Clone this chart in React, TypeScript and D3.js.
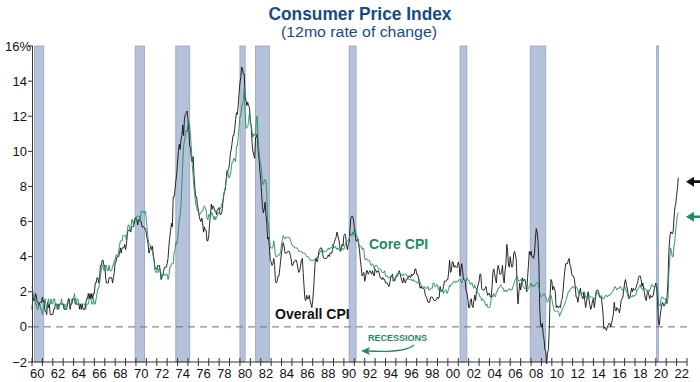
import React from "react";
import * as d3 from "d3";

// Monthly year-over-year % change, Jan 1960 onwards
const overallCPI: number[] = [
  // 1960
  1.0, 1.7, 1.5, 1.5, 1.9, 1.8, 1.4, 1.4, 1.2, 1.4, 1.4, 1.4,
  // 1961
  1.7, 1.4, 1.5, 0.9, 0.9, 0.7, 1.4, 1.1, 1.3, 0.7, 0.7, 0.7,
  // 1962
  0.7, 1.0, 1.0, 1.3, 1.3, 1.3, 1.0, 1.3, 1.3, 1.3, 1.3, 1.3,
  // 1963
  1.3, 1.0, 1.0, 1.0, 1.0, 1.3, 1.6, 1.6, 1.0, 1.3, 1.3, 1.6,
  // 1964
  1.6, 1.6, 1.3, 1.3, 1.3, 1.3, 1.3, 1.0, 1.3, 1.0, 1.3, 1.0,
  // 1965
  1.0, 1.0, 1.3, 1.6, 1.6, 1.9, 1.6, 1.9, 1.6, 1.9, 1.6, 1.9,
  // 1966
  1.9, 2.5, 2.5, 2.8, 2.8, 2.5, 2.8, 3.5, 3.5, 3.8, 3.8, 3.5,
  // 1967
  3.5, 2.8, 2.5, 2.5, 2.5, 2.8, 2.8, 2.8, 2.8, 2.5, 2.8, 3.1,
  // 1968
  3.7, 3.7, 4.0, 4.0, 4.0, 4.2, 4.5, 4.2, 4.5, 4.5, 4.5, 4.7,
  // 1969
  4.4, 4.7, 5.3, 5.5, 5.5, 5.5, 5.4, 5.7, 5.7, 5.7, 5.9, 6.2,
  // 1970
  6.2, 6.1, 5.8, 6.1, 6.1, 6.0, 6.0, 5.7, 5.7, 5.7, 5.6, 5.6,
  // 1971
  5.3, 5.0, 4.7, 4.2, 4.4, 4.6, 4.4, 4.6, 4.1, 3.8, 3.3, 3.3,
  // 1972
  3.3, 3.5, 3.5, 3.5, 3.2, 2.7, 2.9, 2.9, 3.2, 3.4, 3.4, 3.4,
  // 1973
  3.6, 3.9, 4.6, 5.1, 5.5, 5.9, 5.7, 7.4, 7.4, 7.8, 8.3, 8.7,
  // 1974
  9.4, 10.0, 10.4, 10.1, 10.7, 10.9, 11.5, 10.9, 11.9, 12.1, 12.2, 12.3,
  // 1975
  11.8, 11.2, 10.3, 10.2, 9.5, 9.4, 9.7, 8.6, 7.9, 7.4, 7.4, 6.9,
  // 1976
  6.7, 6.3, 6.1, 6.0, 6.2, 5.9, 5.4, 5.7, 5.5, 5.5, 4.9, 4.9,
  // 1977
  5.2, 5.9, 6.4, 7.0, 6.7, 6.9, 6.8, 6.6, 6.6, 6.4, 6.7, 6.7,
  // 1978
  6.8, 6.4, 6.4, 6.5, 6.9, 7.4, 7.7, 7.8, 8.3, 8.9, 8.9, 9.0,
  // 1979
  9.3, 9.9, 10.1, 10.5, 10.9, 10.9, 11.3, 11.8, 12.2, 12.1, 12.6, 13.3,
  // 1980
  13.9, 14.2, 14.8, 14.7, 14.4, 14.4, 13.1, 12.9, 12.6, 12.8, 12.6, 12.5,
  // 1981
  11.8, 11.4, 10.5, 10.0, 9.8, 9.6, 10.8, 10.8, 11.0, 10.1, 9.6, 8.9,
  // 1982
  8.4, 7.6, 6.8, 6.5, 6.7, 7.1, 6.4, 5.9, 5.0, 5.1, 4.6, 3.8,
  // 1983
  3.7, 3.5, 3.6, 3.9, 3.5, 2.6, 2.5, 2.6, 2.9, 2.9, 3.3, 3.8,
  // 1984
  4.2, 4.6, 4.8, 4.6, 4.2, 4.2, 4.2, 4.3, 4.3, 4.3, 4.1, 3.9,
  // 1985
  3.5, 3.5, 3.7, 3.7, 3.8, 3.8, 3.6, 3.3, 3.1, 3.2, 3.5, 3.8,
  // 1986
  3.9, 3.1, 2.3, 1.6, 1.5, 1.8, 1.6, 1.6, 1.8, 1.5, 1.3, 1.1,
  // 1987
  1.5, 2.1, 3.0, 3.8, 3.9, 3.7, 3.9, 4.3, 4.4, 4.5, 4.5, 4.4,
  // 1988
  4.0, 3.9, 3.9, 3.9, 3.9, 4.0, 4.1, 4.0, 4.2, 4.2, 4.2, 4.4,
  // 1989
  4.7, 4.8, 5.0, 5.1, 5.4, 5.2, 5.0, 4.7, 4.3, 4.5, 4.7, 4.6,
  // 1990
  5.2, 5.3, 5.2, 4.7, 4.4, 4.7, 4.8, 5.6, 6.2, 6.3, 6.3, 6.1,
  // 1991
  5.7, 5.3, 4.9, 4.9, 5.0, 4.7, 4.4, 3.8, 3.4, 2.9, 3.0, 3.1,
  // 1992
  2.6, 2.8, 3.2, 3.2, 3.0, 3.1, 3.2, 3.1, 3.0, 3.2, 3.0, 2.9,
  // 1993
  3.3, 3.2, 3.1, 3.2, 3.2, 3.0, 2.8, 2.8, 2.7, 2.8, 2.7, 2.7,
  // 1994
  2.5, 2.5, 2.5, 2.4, 2.3, 2.5, 2.8, 2.9, 3.0, 2.6, 2.7, 2.7,
  // 1995
  2.8, 2.9, 2.9, 3.1, 3.2, 3.0, 2.8, 2.6, 2.5, 2.8, 2.6, 2.5,
  // 1996
  2.7, 2.7, 2.8, 2.9, 2.9, 2.8, 3.0, 2.9, 3.0, 3.0, 3.3, 3.3,
  // 1997
  3.0, 3.0, 2.8, 2.5, 2.2, 2.3, 2.2, 2.2, 2.2, 2.1, 1.8, 1.7,
  // 1998
  1.6, 1.4, 1.4, 1.4, 1.7, 1.7, 1.7, 1.6, 1.5, 1.5, 1.5, 1.6,
  // 1999
  1.7, 1.6, 1.7, 2.3, 2.1, 2.0, 2.1, 2.3, 2.6, 2.6, 2.6, 2.7,
  // 2000
  2.7, 3.2, 3.8, 3.1, 3.2, 3.7, 3.7, 3.4, 3.5, 3.4, 3.4, 3.4,
  // 2001
  3.7, 3.5, 2.9, 3.3, 3.6, 3.2, 2.7, 2.7, 2.6, 2.1, 1.9, 1.6,
  // 2002
  1.1, 1.1, 1.5, 1.6, 1.2, 1.1, 1.5, 1.8, 1.5, 2.0, 2.2, 2.4,
  // 2003
  2.6, 3.0, 3.0, 2.2, 2.1, 2.1, 2.1, 2.2, 2.3, 2.0, 1.8, 1.9,
  // 2004
  1.9, 1.7, 1.7, 2.3, 3.1, 3.3, 3.0, 2.7, 2.5, 3.2, 3.5, 3.3,
  // 2005
  3.0, 3.0, 3.1, 3.5, 2.8, 2.5, 3.2, 3.6, 4.7, 4.3, 3.5, 3.4,
  // 2006
  4.0, 3.6, 3.4, 3.5, 4.2, 4.3, 4.1, 3.8, 2.1, 1.3, 2.0, 2.5,
  // 2007
  2.1, 2.4, 2.8, 2.6, 2.7, 2.7, 2.4, 2.0, 2.8, 3.5, 4.3, 4.1,
  // 2008
  4.3, 4.0, 4.0, 3.9, 4.2, 5.0, 5.6, 5.4, 4.9, 3.7, 1.1, 0.1,
  // 2009
  0.0, 0.2, -0.4, -0.7, -1.3, -1.4, -2.1, -1.5, -1.3, -0.2, 1.8, 2.7,
  // 2010
  2.6, 2.1, 2.3, 2.2, 2.0, 1.1, 1.2, 1.1, 1.1, 1.2, 1.1, 1.5,
  // 2011
  1.6, 2.1, 2.7, 3.2, 3.6, 3.6, 3.6, 3.8, 3.9, 3.5, 3.4, 3.0,
  // 2012
  2.9, 2.9, 2.7, 2.3, 1.7, 1.7, 1.4, 1.7, 2.0, 2.2, 1.8, 1.7,
  // 2013
  1.6, 2.0, 1.5, 1.1, 1.4, 1.8, 2.0, 1.5, 1.2, 1.0, 1.2, 1.5,
  // 2014
  1.6, 1.1, 1.5, 2.0, 2.1, 2.1, 2.0, 1.7, 1.7, 1.7, 1.3, 0.8,
  // 2015
  -0.1, 0.0, -0.1, -0.2, 0.0, 0.1, 0.2, 0.2, 0.0, 0.2, 0.5, 0.7,
  // 2016
  1.4, 1.0, 0.9, 1.1, 1.0, 1.0, 0.8, 1.1, 1.5, 1.6, 1.7, 2.1,
  // 2017
  2.5, 2.7, 2.4, 2.2, 1.9, 1.6, 1.7, 1.9, 2.2, 2.0, 2.2, 2.1,
  // 2018
  2.1, 2.2, 2.4, 2.5, 2.8, 2.9, 2.9, 2.7, 2.3, 2.5, 2.2, 1.9,
  // 2019
  1.6, 1.5, 1.9, 2.0, 1.8, 1.6, 1.8, 1.7, 1.7, 1.8, 2.1, 2.3,
  // 2020
  2.5, 2.3, 1.5, 0.3, 0.1, 0.6, 1.0, 1.3, 1.4, 1.2, 1.2, 1.4,
  // 2021
  1.4, 1.7, 2.6, 4.2, 5.0, 5.4, 5.4, 5.3, 5.4, 6.2, 6.8, 7.0,
  // 2022
  7.5, 7.9, 8.5,
];

const coreCPI: number[] = [
  // 1960
  2.3, 2.0, 1.7, 1.7, 1.3, 1.3, 1.0, 1.0, 1.3, 1.3, 1.0, 1.0,
  // 1961
  0.7, 1.0, 1.3, 1.6, 1.3, 1.0, 1.3, 1.6, 1.3, 1.3, 1.6, 1.3,
  // 1962
  1.3, 1.6, 1.6, 1.3, 1.3, 1.0, 1.3, 1.0, 1.3, 1.3, 1.6, 1.3,
  // 1963
  1.3, 1.3, 1.0, 1.3, 1.3, 1.3, 1.6, 1.3, 1.3, 1.3, 1.6, 1.6,
  // 1964
  1.6, 1.9, 1.6, 1.3, 1.6, 1.6, 1.3, 1.3, 1.3, 1.3, 1.3, 1.3,
  // 1965
  1.3, 1.3, 1.0, 1.3, 1.3, 1.3, 1.6, 1.6, 1.6, 1.3, 1.3, 1.6,
  // 1966
  1.3, 1.3, 1.6, 1.9, 2.2, 2.2, 2.5, 2.9, 3.2, 3.5, 3.5, 3.2,
  // 1967
  3.2, 3.5, 3.5, 3.2, 3.2, 3.5, 3.2, 3.2, 3.2, 3.5, 3.5, 3.8,
  // 1968
  3.8, 4.1, 4.1, 4.0, 4.3, 4.6, 4.9, 4.9, 4.9, 5.2, 5.2, 5.2,
  // 1969
  5.2, 4.9, 5.5, 5.8, 5.8, 5.5, 5.5, 6.1, 6.1, 5.8, 6.1, 6.1,
  // 1970
  6.1, 6.3, 6.3, 6.3, 6.3, 6.0, 6.6, 6.6, 6.6, 6.5, 6.5, 6.6,
  // 1971
  6.1, 5.5, 5.0, 4.7, 4.7, 4.6, 4.4, 4.3, 4.0, 3.7, 3.2, 3.1,
  // 1972
  3.1, 3.4, 3.1, 3.3, 3.3, 3.0, 2.8, 3.0, 3.0, 3.0, 2.9, 3.0,
  // 1973
  3.0, 2.7, 2.9, 3.4, 3.4, 3.6, 3.6, 3.6, 4.2, 4.4, 4.8, 4.7,
  // 1974
  5.0, 5.5, 6.1, 6.3, 7.0, 8.1, 9.3, 10.3, 10.6, 10.9, 11.2, 11.1,
  // 1975
  11.5, 11.7, 11.4, 10.9, 10.1, 9.2, 8.6, 7.9, 7.5, 7.0, 6.8, 6.6,
  // 1976
  6.6, 6.4, 6.4, 6.5, 6.6, 6.6, 6.8, 6.9, 6.8, 6.6, 6.2, 6.1,
  // 1977
  6.4, 6.4, 6.2, 6.5, 6.5, 6.3, 6.1, 6.3, 6.1, 6.3, 6.3, 6.5,
  // 1978
  6.5, 6.7, 6.8, 7.0, 7.1, 7.4, 7.7, 7.9, 8.3, 8.6, 8.9, 8.5,
  // 1979
  8.5, 8.7, 9.0, 9.4, 9.4, 9.6, 9.5, 9.4, 10.3, 10.3, 10.8, 11.3,
  // 1980
  12.0, 12.0, 12.5, 12.7, 12.9, 13.6, 12.2, 11.3, 11.4, 11.4, 11.7, 12.2,
  // 1981
  11.6, 11.5, 11.1, 10.8, 11.0, 10.9, 11.0, 11.9, 12.0, 10.5, 10.0, 9.5,
  // 1982
  9.3, 8.8, 8.2, 8.1, 8.3, 8.4, 8.3, 7.6, 5.9, 5.9, 5.2, 4.5,
  // 1983
  4.5, 4.5, 4.5, 4.9, 4.6, 4.0, 4.0, 4.0, 4.1, 4.1, 4.1, 4.3,
  // 1984
  4.7, 5.0, 5.2, 5.1, 5.0, 5.1, 5.1, 5.1, 5.1, 5.1, 5.0, 4.8,
  // 1985
  4.7, 4.6, 4.6, 4.5, 4.5, 4.5, 4.5, 4.4, 4.3, 4.3, 4.3, 4.3,
  // 1986
  4.2, 4.2, 4.2, 4.2, 4.1, 4.0, 4.0, 4.0, 3.9, 3.8, 3.8, 3.8,
  // 1987
  3.8, 3.8, 3.8, 3.9, 3.9, 4.0, 4.0, 4.1, 4.2, 4.3, 4.4, 4.2,
  // 1988
  4.3, 4.3, 4.3, 4.3, 4.3, 4.4, 4.5, 4.4, 4.5, 4.5, 4.5, 4.7,
  // 1989
  4.5, 4.5, 4.6, 4.5, 4.4, 4.5, 4.4, 4.4, 4.3, 4.4, 4.5, 4.4,
  // 1990
  4.4, 4.6, 4.8, 4.8, 4.9, 4.9, 5.0, 5.2, 5.3, 5.2, 5.4, 5.2,
  // 1991
  5.6, 5.6, 5.3, 5.1, 5.1, 4.8, 4.6, 4.6, 4.6, 4.4, 4.5, 4.4,
  // 1992
  3.9, 3.8, 3.9, 3.8, 3.8, 3.8, 3.7, 3.5, 3.5, 3.6, 3.5, 3.3,
  // 1993
  3.5, 3.5, 3.5, 3.4, 3.3, 3.3, 3.3, 3.2, 3.1, 3.1, 3.1, 3.2,
  // 1994
  2.9, 2.9, 2.9, 2.8, 2.8, 2.8, 2.9, 2.9, 2.9, 2.8, 2.8, 2.6,
  // 1995
  2.9, 3.0, 3.0, 3.1, 3.1, 3.0, 3.0, 3.0, 2.9, 3.0, 3.0, 3.0,
  // 1996
  3.0, 2.9, 2.8, 2.7, 2.7, 2.7, 2.7, 2.6, 2.7, 2.6, 2.6, 2.6,
  // 1997
  2.5, 2.5, 2.5, 2.7, 2.5, 2.4, 2.3, 2.3, 2.2, 2.3, 2.2, 2.2,
  // 1998
  2.2, 2.3, 2.1, 2.1, 2.2, 2.2, 2.2, 2.5, 2.5, 2.3, 2.3, 2.4,
  // 1999
  2.4, 2.1, 2.1, 2.2, 2.0, 2.1, 2.1, 1.9, 2.0, 2.1, 2.1, 1.9,
  // 2000
  2.0, 2.2, 2.4, 2.3, 2.4, 2.5, 2.5, 2.6, 2.6, 2.5, 2.6, 2.6,
  // 2001
  2.6, 2.7, 2.7, 2.6, 2.5, 2.7, 2.7, 2.7, 2.6, 2.6, 2.8, 2.7,
  // 2002
  2.6, 2.6, 2.4, 2.5, 2.5, 2.3, 2.2, 2.4, 2.2, 2.2, 2.0, 1.9,
  // 2003
  1.9, 1.7, 1.7, 1.5, 1.6, 1.5, 1.5, 1.3, 1.2, 1.3, 1.1, 1.1,
  // 2004
  1.1, 1.2, 1.6, 1.8, 1.7, 1.9, 1.8, 1.7, 2.0, 2.0, 2.2, 2.2,
  // 2005
  2.3, 2.4, 2.3, 2.2, 2.2, 2.0, 2.1, 2.1, 2.0, 2.1, 2.1, 2.2,
  // 2006
  2.1, 2.1, 2.1, 2.3, 2.4, 2.6, 2.7, 2.8, 2.9, 2.7, 2.6, 2.6,
  // 2007
  2.7, 2.7, 2.5, 2.3, 2.2, 2.2, 2.2, 2.1, 2.1, 2.2, 2.3, 2.4,
  // 2008
  2.5, 2.3, 2.4, 2.3, 2.3, 2.4, 2.5, 2.5, 2.5, 2.2, 2.0, 1.8,
  // 2009
  1.7, 1.8, 1.8, 1.9, 1.8, 1.7, 1.5, 1.4, 1.5, 1.7, 1.7, 1.8,
  // 2010
  1.6, 1.3, 1.1, 0.9, 0.9, 0.9, 0.9, 0.9, 0.8, 0.6, 0.8, 0.8,
  // 2011
  1.0, 1.1, 1.2, 1.3, 1.5, 1.6, 1.8, 2.0, 2.0, 2.1, 2.2, 2.2,
  // 2012
  2.3, 2.2, 2.3, 2.3, 2.3, 2.2, 2.1, 1.9, 2.0, 2.0, 1.9, 1.9,
  // 2013
  1.9, 2.0, 1.9, 1.7, 1.7, 1.6, 1.7, 1.8, 1.7, 1.7, 1.7, 1.7,
  // 2014
  1.6, 1.6, 1.7, 1.8, 2.0, 1.9, 1.9, 1.7, 1.7, 1.8, 1.7, 1.6,
  // 2015
  1.6, 1.7, 1.8, 1.8, 1.7, 1.8, 1.8, 1.8, 1.9, 1.9, 2.0, 2.1,
  // 2016
  2.2, 2.3, 2.2, 2.1, 2.2, 2.2, 2.2, 2.3, 2.2, 2.1, 2.1, 2.2,
  // 2017
  2.3, 2.2, 2.0, 1.9, 1.7, 1.7, 1.7, 1.7, 1.7, 1.8, 1.7, 1.8,
  // 2018
  1.8, 1.8, 2.1, 2.1, 2.2, 2.3, 2.4, 2.2, 2.2, 2.1, 2.2, 2.2,
  // 2019
  2.2, 2.1, 2.0, 2.1, 2.0, 2.1, 2.2, 2.4, 2.4, 2.3, 2.3, 2.3,
  // 2020
  2.3, 2.4, 2.1, 1.4, 1.2, 1.2, 1.6, 1.7, 1.7, 1.6, 1.6, 1.6,
  // 2021
  1.4, 1.3, 1.6, 3.0, 3.8, 4.5, 4.3, 4.0, 4.0, 4.6, 4.9, 5.5,
  // 2022
  6.0, 6.4, 6.5,
];

const startYear = 1960;

// NBER recessions (start, end) in fractional years
const recessionStarts: number[] = [1960.25, 1969.92, 1973.83, 1980.0, 1981.5, 1990.5, 2001.17, 2007.92, 2020.08];
const recessionEnds: number[] = [1961.13, 1970.83, 1975.17, 1980.5, 1982.83, 1991.17, 2001.83, 2009.42, 2020.25];

const yTicks: number[] = [-2, 0, 2, 4, 6, 8, 10, 12, 14, 16];
const xLabelYears: number[] = d3.range(1960, 2023, 2);
const xTickYears: number[] = d3.range(1960, 2024, 1);

const W = 700;
const H = 382;

export default function App() {
  const x = d3.scaleLinear().domain([1960, 2023]).range([32, 687]);
  const y = d3.scaleLinear().domain([-2, 16]).range([362, 46]);

  const toPts = (arr: number[]) => arr.map((v, i) => [startYear + i / 12, v] as [number, number]);
  const line = d3
    .line<[number, number]>()
    .x((d) => x(d[0]))
    .y((d) => y(d[1]));

  const font = "'Liberation Sans', Arial, Helvetica, sans-serif";
  const green = "#1f8d5e";
  const titleBlue = "#154b86";

  const lastOverall = overallCPI[overallCPI.length - 1];
  const lastCore = coreCPI[coreCPI.length - 1];

  const arrowPath = "M 686 0 L 694 -5 L 694 -1.3 L 700 -1.3 L 700 1.3 L 694 1.3 L 694 5 Z";

  return (
    <svg width={W} height={H} style={{ position: "absolute", left: 0, top: 0, background: "#fff" }} fontFamily={font}>
      {/* Title */}
      <text x={360} y={20} textAnchor="middle" fontSize={19} fontWeight="bold" fill={titleBlue} textLength={183} lengthAdjust="spacingAndGlyphs">
        Consumer Price Index
      </text>
      <text x={359} y={37} textAnchor="middle" fontSize={15.5} fill={titleBlue} textLength={156} lengthAdjust="spacingAndGlyphs">
        (12mo rate of change)
      </text>

      {/* Recession bands */}
      {recessionStarts.map((s, i) => (
        <rect
          key={"r" + i}
          x={x(s)}
          y={y(16)}
          width={Math.max(1.5, x(recessionEnds[i]) - x(s))}
          height={y(-2) - y(16)}
          fill="#b6c1da"
          stroke="#95a3c2"
          strokeWidth={0.8}
        />
      ))}

      {/* Zero dashed line */}
      <line x1={x(1960)} x2={x(2023)} y1={y(0)} y2={y(0)} stroke="#6e6e6e" strokeWidth={1} strokeDasharray="7,5" />

      {/* Lines */}
      <path d={line(toPts(overallCPI)) || ""} fill="none" stroke="#111" strokeWidth={0.9} strokeLinejoin="round" />
      <path d={line(toPts(coreCPI)) || ""} fill="none" stroke={green} strokeWidth={0.9} strokeLinejoin="round" />

      {/* Y axis */}
      <line x1={32.5} x2={32.5} y1={y(16)} y2={y(-2)} stroke="#333" strokeWidth={1} />
      {yTicks.map((t) => (
        <g key={"yt" + t}>
          <line x1={28} x2={33} y1={y(t)} y2={y(t)} stroke="#333" strokeWidth={1} />
          <text x={t === 16 ? 31 : 27} y={y(t) + 4.5} textAnchor="end" fontSize={13} fill="#111">
            {t === 16 ? "16%" : t < 0 ? "\u2212" + Math.abs(t) : String(t)}
          </text>
        </g>
      ))}

      {/* X axis */}
      <line x1={32.5} x2={x(2023)} y1={y(-2)} y2={y(-2)} stroke="#333" strokeWidth={1} />
      {xTickYears.map((yr) => (
        <line key={"xt" + yr} x1={x(yr)} x2={x(yr)} y1={y(-2) - 4} y2={y(-2) + 4} stroke="#333" strokeWidth={1} />
      ))}
      {xLabelYears.map((yr) => (
        <text key={"xl" + yr} x={x(yr + 0.5)} y={378} textAnchor="middle" fontSize={13} fill="#111">
          {String(yr % 100).padStart(2, "0")}
        </text>
      ))}

      {/* Labels */}
      <text x={369} y={249} fontSize={14} fontWeight="bold" fill={green}>
        Core CPI
      </text>
      <text x={275} y={319} fontSize={14} fontWeight="bold" fill="#111">
        Overall CPI
      </text>
      <text x={368} y={341} fontSize={9} fontWeight="bold" fill={green}>
        RECESSIONS
      </text>
      <path d="M 414 345 Q 405 353 368 351" fill="none" stroke={green} strokeWidth={1.3} />
      <path d="M 361 351 L 370 347 L 368 351 L 370 355 Z" fill={green} />

      {/* Right-edge arrows for latest values */}
      <g transform={`translate(0, ${y(lastOverall) + 4})`}>
        <path d={arrowPath} fill="#111" />
      </g>
      <g transform={`translate(0, ${y(lastCore) + 4})`}>
        <path d={arrowPath} fill={green} />
      </g>
    </svg>
  );
}
